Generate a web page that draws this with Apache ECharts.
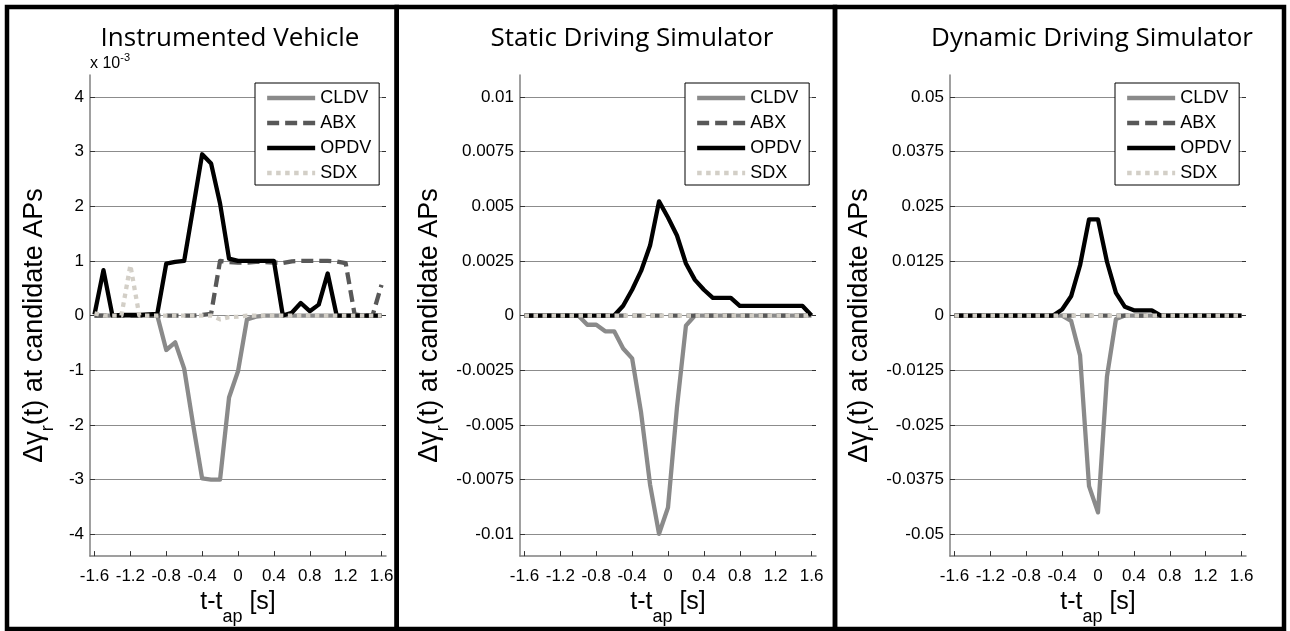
<!DOCTYPE html>
<html><head><meta charset="utf-8">
<script src="https://cdn.jsdelivr.net/npm/echarts@6/dist/echarts.min.js"></script>
<style>html,body{margin:0;padding:0;background:#fff}#c{width:1290px;height:631px}</style>
</head><body><div id="c"></div>
<script>
// ---------- data ----------
const times = [-1.6,-1.5,-1.4,-1.3,-1.2,-1.1,-1.0,-0.9,-0.8,-0.7,-0.6,-0.5,-0.4,-0.3,-0.2,-0.1,0,0.1,0.2,0.3,0.4,0.5,0.6,0.7,0.8,0.9,1.0,1.1,1.2,1.3,1.4,1.5,1.6];
const xTicks = [-1.6,-1.2,-0.8,-0.4,0,0.4,0.8,1.2,1.6];
const xTickLabels = ['-1.6','-1.2','-0.8','-0.4','0','0.4','0.8','1.2','1.6'];
const panelTitles = ['Instrumented Vehicle','Static Driving Simulator','Dynamic Driving Simulator'];
const seriesNames = ['CLDV','ABX','OPDV','SDX'];

// Instrumented Vehicle (axis units: x 10^-3)
const ivCLDV = [0,0,0,0,0,0,0,0,-0.63,-0.49,-0.97,-2.0,-2.98,-3.0,-3.0,-1.5,-1.02,-0.07,-0.02,0,0,0,0,0,0,0,0,0,0,0,0,0,0];
const ivABX  = [0,0,0,0,0,0,0,0,0,0,0,0,0.01,0.03,1.0,0.98,0.97,0.97,0.98,0.98,0.97,0.96,0.99,1.0,1.0,1.0,1.0,0.99,0.96,0.02,0,0,0.56];
const ivOPDV = [0.02,0.83,0,0.01,0.01,0.01,0.02,0.03,0.95,0.98,1.0,1.97,2.95,2.78,2.05,1.04,1.0,1.0,1.0,1.0,1.0,0,0.05,0.23,0.08,0.2,0.77,0,0,0,0,0,0];
const ivSDX  = [0.04,0,0,0,0.92,0,0,0,0,0,0,0,0,0,-0.07,-0.03,-0.02,0,0,0,0,0,0,0,0,0,0,0,0,0,0,0,0];

// Static Driving Simulator
const sdsCLDV = [0,0,0,0,0,0,0,-0.00042,-0.00042,-0.00072,-0.00072,-0.00151,-0.00196,-0.00444,-0.00773,-0.00998,-0.00878,-0.0042,-0.00046,0,0,0,0,0,0,0,0,0,0,0,0,0,0];
const sdsABX  = [0,0,0,0,0,0,0,0,0,0,0,0,0,0,0,0,0,0,0,0,0,0,0,0,0,0,0,0,0,0,0,0,0];
const sdsOPDV = [0,0,0,0,0,0,0,0,0,0,0,0.00045,0.00118,0.00204,0.0032,0.00522,0.00448,0.00366,0.00238,0.00163,0.00118,0.00081,0.00081,0.00081,0.00044,0.00044,0.00044,0.00044,0.00044,0.00044,0.00044,0.00044,0];
const sdsSDX  = [0,0,0,0,0,0,0,0,0,0,0,0,0,0,0,0,0,0,0,0,0,0,0,0,0,0,0,0,0,0,0,0,0];

// Dynamic Driving Simulator
const ddsCLDV = [0,0,0,0,0,0,0,0,0,0,0,0,0,-0.0012,-0.0091,-0.039,-0.045,-0.0139,-0.0008,0,0,0,0,0,0,0,0,0,0,0,0,0,0];
const ddsABX  = [0,0,0,0,0,0,0,0,0,0,0,0,0,0,0,0,0,0,0,0,0,0,0,0,0,0,0,0,0,0,0,0,0];
const ddsOPDV = [0,0,0,0,0,0,0,0,0,0,0,0,0.0014,0.0044,0.0115,0.022,0.022,0.0123,0.0052,0.002,0.0012,0.0012,0.0012,0,0,0,0,0,0,0,0,0,0];
const ddsSDX  = [0,0,0,0,0,0,0,0,0,0,0,0,0,0,0,0,0,0,0,0,0,0,0,0,0,0,0,0,0,0,0,0,0];

const yTicksIV = [-4,-3,-2,-1,0,1,2,3,4];
const yTickLabelsIV = ['-4','-3','-2','-1','0','1','2','3','4'];
const yTicksSDS = [-0.01,-0.0075,-0.005,-0.0025,0,0.0025,0.005,0.0075,0.01];
const yTickLabelsSDS = ['-0.01','-0.0075','-0.005','-0.0025','0','0.0025','0.005','0.0075','0.01'];
const yTicksDDS = [-0.05,-0.0375,-0.025,-0.0125,0,0.0125,0.025,0.0375,0.05];
const yTickLabelsDDS = ['-0.05','-0.0375','-0.025','-0.0125','0','0.0125','0.025','0.0375','0.05'];
const yLimits = [4.4, 0.011, 0.055];
const xLimit = 1.65;

// ---------- build ----------
const panels = [
  {data:[ivCLDV,ivABX,ivOPDV,ivSDX], ticks:yTicksIV, labels:yTickLabelsIV},
  {data:[sdsCLDV,sdsABX,sdsOPDV,sdsSDX], ticks:yTicksSDS, labels:yTickLabelsSDS},
  {data:[ddsCLDV,ddsABX,ddsOPDV,ddsSDX], ticks:yTicksDDS, labels:yTickLabelsDDS}
];
const gridLeft = [90, 520, 950];
const legendLeft = [255, 685, 1115];
const titleX = [230, 632, 1092];
const styles = [
  {color:'#8a8a8a', type:'solid'},
  {color:'#585858', type:[12,6]},
  {color:'#000000', type:'solid'},
  {color:'#d3cfc7', type:[4.5,4.5]}
];
const FONT = '"Liberation Sans", Arial, sans-serif';
const LW = 4.3;

function lookup(ticks, labels){
  return function(v){
    for (let i=0;i<ticks.length;i++){ if (Math.abs(ticks[i]-v) < 1e-9) return labels[i]; }
    return '';
  };
}

const grids=[], xAxes=[], yAxes=[], series=[], legends=[], graphics=[];
panels.forEach((p, k) => {
  grids.push({left:gridLeft[k], top:75, width:296, height:487});
  xAxes.push({
    type:'value', gridIndex:k, min:-xLimit, max:xLimit,
    axisLine:{show:true, onZero:false, lineStyle:{color:'#808080', width:1.5}},
    axisTick:{show:true, inside:true, length:5, customValues:xTicks, lineStyle:{color:'#333', width:1}},
    axisLabel:{show:true, margin:12, customValues:xTicks, formatter:lookup(xTicks,xTickLabels), fontFamily:FONT, fontSize:17, color:'#000'},
    splitLine:{show:false},
    name:'{m|t-t}{s|ap}{m| [s]}', nameLocation:'middle', nameGap:31,
    nameTextStyle:{fontFamily:FONT, color:'#000', rich:{
      m:{fontFamily:FONT, fontSize:25, color:'#000', verticalAlign:'top', lineHeight:26},
      s:{fontFamily:FONT, fontSize:18, color:'#000', verticalAlign:'bottom', lineHeight:36}
    }}
  });
  const lim = yLimits[k];
  yAxes.push({
    type:'value', gridIndex:k, min:-lim, max:lim, position:'left',
    axisLine:{show:true, onZero:false, lineStyle:{color:'#808080', width:1.5}},
    axisTick:{show:true, inside:true, length:5, customValues:p.ticks, lineStyle:{color:'#333', width:1}},
    axisLabel:{show:true, margin:6, customValues:p.ticks, formatter:lookup(p.ticks,p.labels), fontFamily:FONT, fontSize:17, color:'#000'},
    splitLine:{show:true, lineStyle:{color:'#8c8c8c', width:1}},
    name:'{m|Δγ}{s|r}{m|(t) at candidate APs}', nameLocation:'middle', nameGap:33, nameRotate:90,
    nameTextStyle:{fontFamily:FONT, color:'#000', padding:[0,20,0,0], rich:{
      m:{fontFamily:FONT, fontSize:27, color:'#000', verticalAlign:'top', lineHeight:28},
      s:{fontFamily:FONT, fontSize:18, color:'#000', verticalAlign:'bottom', lineHeight:36}
    }}
  });
  yAxes.push({
    type:'value', gridIndex:k, min:-lim, max:lim, position:'right',
    axisLine:{show:false, onZero:false},
    axisTick:{show:true, inside:true, length:4, customValues:p.ticks, lineStyle:{color:'#333', width:1}},
    axisLabel:{show:false}, splitLine:{show:false}
  });
  p.data.forEach((arr, j) => {
    series.push({
      name:seriesNames[j], type:'line', xAxisIndex:k, yAxisIndex:2*k,
      data: times.map((t,i)=>[t, arr[i]]),
      symbol:'none', showSymbol:false, color:styles[j].color,
      lineStyle:{color:styles[j].color, width:LW, type:styles[j].type, cap:'butt', join:'round'},
      z: 2+j, animation:false
    });
  });
  legends.push({
    left:legendLeft[k], top:83, orient:'vertical', itemWidth:48, itemHeight:14, itemGap:7,
    padding:[6,8,3,10], borderColor:'#000', borderWidth:1, backgroundColor:'#fff', borderRadius:0,
    selectedMode:false, data:seriesNames,
    itemStyle:{opacity:0},
    lineStyle:{width:LW},
    textStyle:{fontFamily:FONT, fontSize:18, color:'#000', lineHeight:18}
  });
  graphics.push({type:'text', x:titleX[k], y:39, z:10,
    style:{text:panelTitles[k], font:'26px "Open Sans", Lato, sans-serif', fill:'#000', align:'center', verticalAlign:'middle'}});
});
// panel frames
[[7,396.7],[396.7,835],[835,1284]].forEach(([a,b]) => {
  graphics.push({type:'rect', shape:{x:a, y:7, width:b-a, height:622}, z:20,
    style:{fill:'none', stroke:'#000', lineWidth:4.5}});
});
graphics.push({type:'text', x:90, y:62, z:10, style:{
  text:'{a|x 10}{b|-3}', verticalAlign:'middle', align:'left',
  rich:{a:{fontFamily:FONT, fontSize:16, fill:'#000', verticalAlign:'bottom', lineHeight:20},
        b:{fontFamily:FONT, fontSize:11, fill:'#000', verticalAlign:'top', lineHeight:20}}
}});

const chart = echarts.init(document.getElementById('c'), null, {renderer:'canvas'});
chart.setOption({
  animation:false, backgroundColor:'#fff',
  grid:grids, xAxis:xAxes, yAxis:yAxes, series:series, legend:legends, graphic:graphics
});
</script></body></html>
